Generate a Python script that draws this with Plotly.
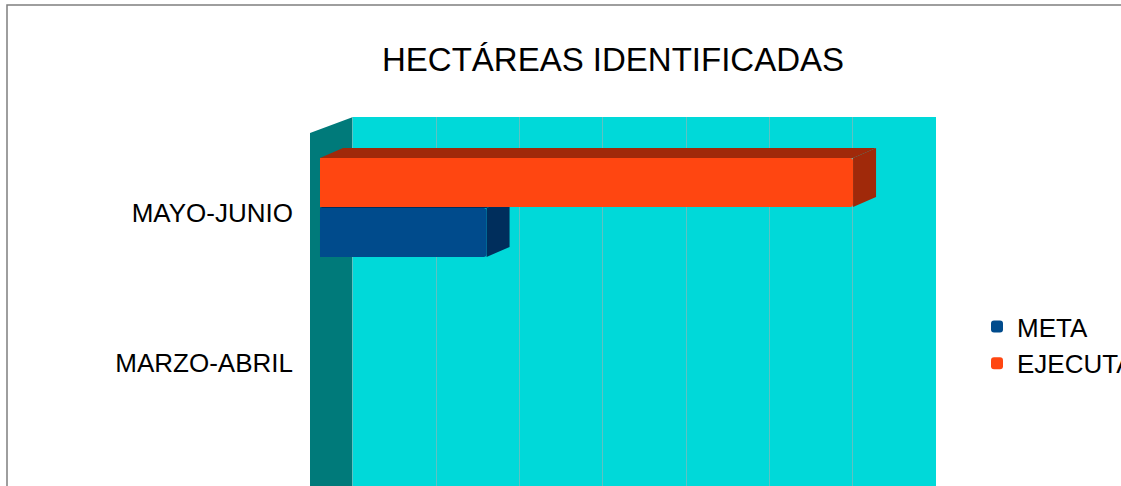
import plotly.graph_objects as go

# ---- data ----
categories = ["MARZO-ABRIL", "MAYO-JUNIO"]
meta = [0, 20]
ejecutado = [0, 64]
series_names = ["META", "EJECUTADO"]
title_text = "HECTÁREAS IDENTIFICADAS"
grid_ticks = [0, 10, 20, 30, 40, 50, 60, 70]

W, H = 1121, 486
FONT = "Liberation Sans, Arial, sans-serif"

def px_x(x):
    return x / W

def px_y(y):
    return 1 - y / H

# colours
CYAN = "#00D9D9"
WALL = "#007A7A"
GRID = "#5EC2C2"
ORANGE = "#FF4611"
ORANGE_D = "#A0290A"
BLUE = "#004B8C"
BLUE_D = "#002E5C"

ypos = list(range(len(categories)))

# bar geometry (positional style, not data)
BAR_W = 0.327
META_OFF = -0.293
EJE_OFF = 0.040
PX_PER_UNIT_X = 626 / 75.16
PX_PER_UNIT_Y = 150.0
DX = 23 / PX_PER_UNIT_X   # depth offset in x units
DY = 10 / PX_PER_UNIT_Y   # depth offset in y units

fig = go.Figure()
fig.add_trace(go.Bar(
    name=series_names[0], y=ypos, x=meta, orientation="h",
    offset=META_OFF, width=BAR_W,
    marker=dict(color=BLUE, line=dict(width=0), cornerradius=3),
    hoverinfo="skip", legendgroup="a",
))
fig.add_trace(go.Bar(
    name=series_names[1], y=ypos, x=ejecutado, orientation="h",
    offset=EJE_OFF, width=BAR_W,
    marker=dict(color=ORANGE, line=dict(width=0), cornerradius=3),
    hoverinfo="skip", legendgroup="b",
))

shapes = []
# outer frame
shapes.append(dict(type="rect", xref="paper", yref="paper",
                   x0=px_x(7), x1=1.05, y0=-0.05, y1=px_y(5),
                   line=dict(color="#7F7F7F", width=1.5), fillcolor="rgba(0,0,0,0)",
                   layer="below"))
# back wall (cyan) on gridline axis
shapes.append(dict(type="rect", xref="x2", yref="paper",
                   x0=grid_ticks[0], x1=grid_ticks[-1], y0=-0.05, y1=px_y(117),
                   line=dict(width=0), fillcolor=CYAN, layer="below"))
# side wall
shapes.append(dict(type="path", xref="paper", yref="paper",
                   path=f"M {px_x(310)},{px_y(133)} L {px_x(353)},{px_y(117)} "
                        f"L {px_x(353)},{-0.05} L {px_x(310)},{-0.05} Z",
                   line=dict(width=0), fillcolor=WALL, layer="below"))

# 3D faces computed from data values
def faces(values, off, dark):
    out = []
    for p, v in zip(ypos, values):
        if v <= 0:
            continue
        y0 = p + off
        y1 = y0 + BAR_W
        right = (f"M {v},{y0} L {v},{y1} L {v+DX},{y1+DY} L {v+DX},{y0+DY} Z")
        top = (f"M 0,{y1} L {v},{y1} L {v+DX},{y1+DY} L {DX},{y1+DY} Z")
        for pth in (top, right):
            out.append(dict(type="path", xref="x", yref="y", path=pth,
                            fillcolor=dark, line=dict(width=0), layer="between"))
    return out

shapes += faces(meta, META_OFF, BLUE_D)
shapes += faces(ejecutado, EJE_OFF, ORANGE_D)

fig.update_layout(
    width=W, height=H,
    margin=dict(l=0, r=0, t=0, b=0, autoexpand=False),
    paper_bgcolor="white", plot_bgcolor="rgba(0,0,0,0)",
    barmode="overlay",
    font=dict(family=FONT, color="black"),
    title=dict(text=title_text, x=613 / W, xanchor="center",
               y=px_y(59), yanchor="middle",
               font=dict(family=FONT, size=33, color="black")),
    xaxis=dict(domain=[px_x(310), px_x(936)], range=[-1.2, 73.96],
               showgrid=False, zeroline=False, showticklabels=False,
               showline=False, fixedrange=True),
    xaxis2=dict(overlaying="x", range=[-5.16, 70], tickvals=grid_ticks,
                showgrid=True, gridcolor=GRID, gridwidth=1,
                zeroline=False, showticklabels=False, showline=False,
                fixedrange=True),
    yaxis=dict(domain=[0, px_y(117)], range=[-0.82, 1.64],
               tickvals=ypos, ticktext=categories, showgrid=False,
               zeroline=False, showline=False, ticks="",
               ticklabelstandoff=16,
               tickfont=dict(family=FONT, size=26, color="black"),
               fixedrange=True),
    legend=dict(x=px_x(977), xanchor="left", y=px_y(303), yanchor="top",
                traceorder="normal", tracegroupgap=13,
                font=dict(family=FONT, size=26, color="black"),
                bgcolor="rgba(0,0,0,0)"),
    shapes=shapes,
    showlegend=True,
    hovermode=False,
)

fig.write_html(
    "out.html",
    config={"displayModeBar": False, "staticPlot": True},
    post_script="document.body.style.margin='0';document.body.style.overflow='hidden';",
)
